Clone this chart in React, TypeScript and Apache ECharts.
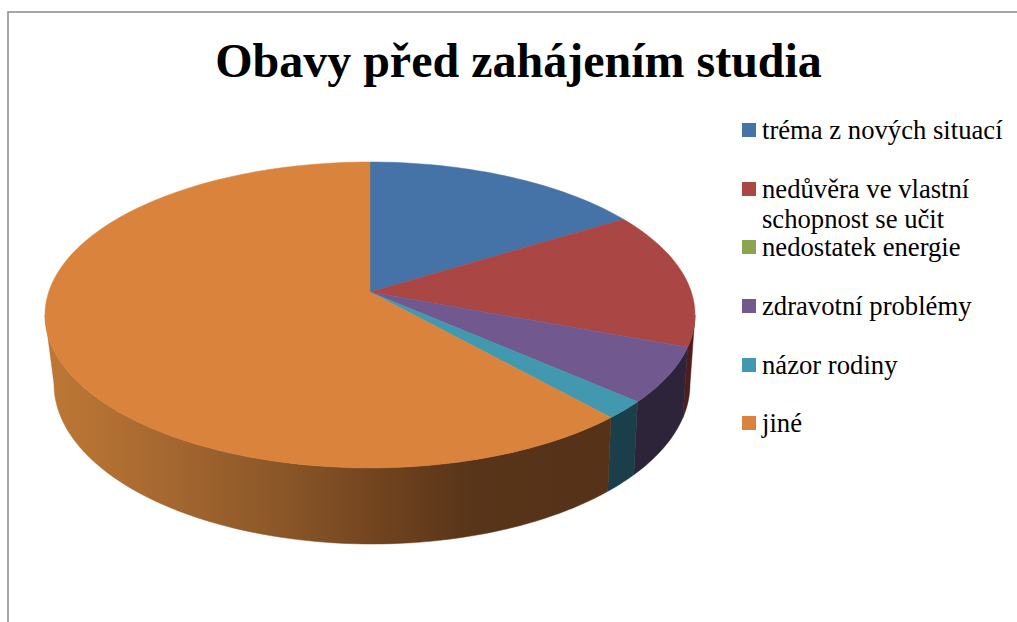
import React, { useEffect, useRef } from "react";
import * as echarts from "echarts";

const chartTitle = "Obavy před zahájením studia";
const categories = [
  "tréma z nových situací",
  "nedůvěra ve vlastní\nschopnost se učit",
  "nedostatek energie",
  "zdravotní problémy",
  "názor rodiny",
  "jiné",
];
const values = [16.2, 14.5, 0, 5.8, 1.9, 61.6];
const topColors = ["#4572a7", "#aa4643", "#89a54e", "#71588f", "#4198af", "#da833c"];
const sideColors = ["#2a4566", "#4f1d1b", "#4f6029", "#2e2439", "#1b3f4a", ""];
const legendCentres = [130, 189, 247, 306, 365, 423];

const FONT = '"Liberation Serif", "Times New Roman", serif';
const K = 0.15;
const SILHOUETTE = (Math.acos(-K) * 180) / Math.PI;
const TOP = { cx: 370, y0: 292, a: 321.3, b: 149.5 };
const BOTTOM = { cx: 372, y0: 360, a: 314.4, b: 156.4 };

const project = (deg: number, e: typeof TOP): number[] => {
  const t = (deg * Math.PI) / 180;
  const u = Math.sin(t);
  const v = Math.cos(t);
  const d = 1 + K * v;
  return [e.cx + (e.a * u) / d, e.y0 - (e.b * v) / d];
};

const total = values.reduce((a, b) => a + b, 0);
const starts = values.map((_, i) => values.slice(0, i).reduce((a, b) => a + b, 0));

const rim = (from: number, to: number, e: typeof TOP): number[][] => {
  const n = Math.max(2, Math.ceil(Math.abs(to - from) / 1.5));
  const out: number[][] = [];
  for (let j = 0; j <= n; j++) out.push(project(from + ((to - from) * j) / n, e));
  return out;
};

const orangeSide = new echarts.graphic.LinearGradient(
  45, 0, 640, 0,
  [
    { offset: 0, color: "#be7835" },
    { offset: 0.2, color: "#a66830" },
    { offset: 0.4, color: "#8a5628" },
    { offset: 0.55, color: "#73451f" },
    { offset: 0.72, color: "#583419" },
    { offset: 1, color: "#543118" },
  ],
  true,
);

const makeRender = (i: number) => (_params: any, api: any) => {
  const value = api.value(0);
  if (!value) return { type: "group", children: [] };
  const a1 = (starts[i] / total) * 360;
  const a2 = ((starts[i] + value) / total) * 360;
  const children: any[] = [];
  const s1 = Math.max(a1, SILHOUETTE);
  const s2 = Math.min(a2, 360 - SILHOUETTE);
  if (s2 > s1) {
    const fill = sideColors[i] || orangeSide;
    children.push({
      type: "polygon",
      z2: 1,
      shape: { points: [...rim(s1, s2, TOP), ...rim(s2, s1, BOTTOM)] },
      style: { fill, stroke: fill, lineWidth: 0.5 },
    });
  }
  children.push({
    type: "polygon",
    z2: 2,
    shape: { points: [project(0, { ...TOP, a: 0, b: 0 }), ...rim(a1, a2, TOP)] },
    style: { fill: topColors[i], stroke: topColors[i], lineWidth: 0.5 },
  });
  return { type: "group", children };
};

export default function App() {
  const ref = useRef<HTMLDivElement>(null);
  useEffect(() => {
    document.body.style.margin = "0";
    const chart = echarts.init(ref.current!, undefined, { renderer: "svg" });
    chart.setOption({
      animation: false,
      backgroundColor: "#ffffff",
      title: {
        text: chartTitle,
        left: 513.5,
        top: 31,
        textAlign: "center",
        textStyle: { fontFamily: FONT, fontSize: 48, fontWeight: "bold", color: "#000000" },
      },
      legend: categories.map((name, i) => {
        const twoLines = name.includes("\n");
        return {
          data: [name],
          left: 742,
          top: legendCentres[i] - (twoLines ? 46.5 : 16.5),
          orient: "vertical",
          selectedMode: false,
          icon: "rect",
          itemWidth: 14,
          itemHeight: 14,
          itemGap: 0,
          padding: 0,
          formatter: (n: string) => (twoLines ? "\n" + n : n),
          textStyle: {
            fontFamily: FONT,
            fontSize: 26.67,
            color: "#000000",
            lineHeight: 30,
            padding: [3, 0, 0, 1],
          },
        };
      }),
      graphic: [
        {
          type: "polyline",
          shape: { points: [[8, 622], [8, 12], [1017, 12]] },
          style: { stroke: "#8a8a8a", lineWidth: 1.5, fill: "none" },
          silent: true,
        },
      ],
      series: categories.map((name, i) => ({
        type: "custom",
        name,
        coordinateSystem: "none",
        data: [values[i]],
        itemStyle: { color: topColors[i] },
        renderItem: makeRender(i),
        silent: true,
      })),
    });
    return () => chart.dispose();
  }, []);
  return <div ref={ref} style={{ position: "absolute", left: 0, top: 0, width: 1017, height: 622 }} />;
}
